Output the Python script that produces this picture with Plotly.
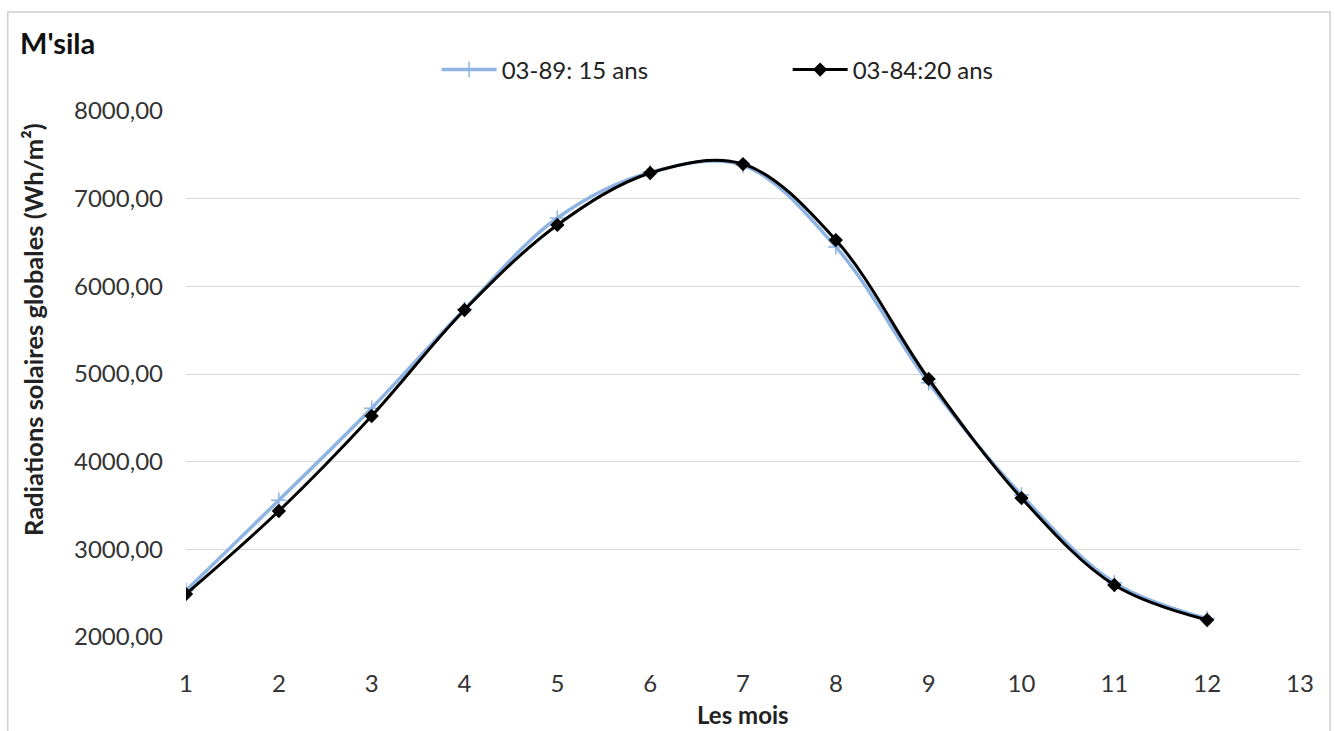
import plotly.graph_objects as go

months = [1, 2, 3, 4, 5, 6, 7, 8, 9, 10, 11, 12]
series_15 = [2530, 3560, 4610, 5740, 6780, 7300, 7380, 6450, 4900, 3620, 2620, 2210]
series_20 = [2490, 3437, 4521, 5730, 6700, 7293, 7395, 6528, 4943, 3585, 2593, 2194]
name_15 = "03-89: 15 ans"
name_20 = "03-84:20 ans"
x_ticks = list(range(1, 14))
y_ticks = [2000, 3000, 4000, 5000, 6000, 7000, 8000]

FONT = "Lato"

fig = go.Figure()
fig.add_trace(go.Scatter(
    x=months, y=series_15, name=name_15, mode="lines+markers",
    line=dict(color="#8EB4E3", width=3.5, shape="spline", smoothing=1),
    marker=dict(symbol="cross-thin", size=11, color="#8EB4E3",
                line=dict(color="#8EB4E3", width=1.5)),
))
fig.add_trace(go.Scatter(
    x=months, y=series_20, name=name_20, mode="lines+markers",
    line=dict(color="#000000", width=3, shape="spline", smoothing=1),
    marker=dict(symbol="diamond", size=11, color="#000000"),
))

fig.update_layout(
    width=1335, height=731,
    margin=dict(l=186, r=35, t=111, b=94),
    paper_bgcolor="white", plot_bgcolor="white",
    separators=", ",
    font=dict(family=FONT, size=24, color="#333333"),
    showlegend=True,
    legend=dict(orientation="h", x=0.225, xanchor="left", y=1.078, yanchor="middle",
                font=dict(family=FONT, size=24, color="#222222"),
                itemwidth=55, entrywidth=281, entrywidthmode="pixels",
                bgcolor="rgba(0,0,0,0)"),
    annotations=[
        dict(text="<b>M'sila</b>", xref="paper", yref="paper", x=-0.1508, y=1.131,
             xanchor="left", yanchor="middle", showarrow=False,
             font=dict(family=FONT, size=29, color="#111111")),
        dict(text="<b>Radiations solaires globales (Wh/m²)</b>", xref="paper", yref="paper",
             x=-0.1373, y=0.5837, xanchor="center", yanchor="middle", textangle=-90,
             showarrow=False, font=dict(family=FONT, size=25.5, color="#222222")),
        dict(text="<b>Les mois</b>", xref="paper", yref="paper", x=0.5, y=-0.147,
             xanchor="center", yanchor="middle", showarrow=False,
             font=dict(family=FONT, size=24, color="#222222")),
    ],
    shapes=[
        dict(type="rect", xref="paper", yref="paper", x0=-0.16, x1=1.027, y0=-0.3, y1=1.188,
             line=dict(color="#D0D0D0", width=1.5), fillcolor="rgba(0,0,0,0)", layer="below"),
    ],
)
fig.update_xaxes(
    range=[1, 13], tickmode="array", tickvals=x_ticks,
    showgrid=False, zeroline=False, showline=False, ticks="",
    ticklabelstandoff=30,
    tickfont=dict(family=FONT, size=24, color="#333333"),
)
fig.update_yaxes(
    range=[2000, 8000], tickmode="array", tickvals=y_ticks, tickformat=".2f",
    showgrid=True, gridcolor="#D9D9D9", gridwidth=1, zeroline=False, showline=False, ticks="",
    ticklabelstandoff=22,
    tickfont=dict(family=FONT, size=24, color="#333333"),
)

fig.write_html("out.html")
